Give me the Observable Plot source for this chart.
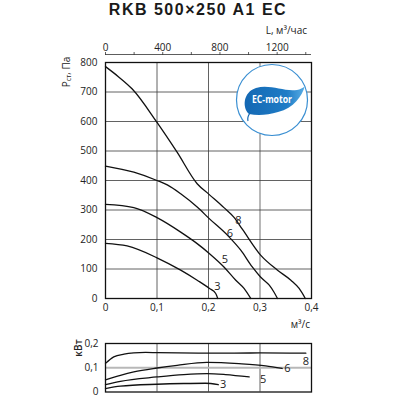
<!DOCTYPE html>
<html><head><meta charset="utf-8">
<script src="https://cdn.jsdelivr.net/npm/d3@7"></script>
<script src="https://cdn.jsdelivr.net/npm/@observablehq/plot@0.6"></script>
<style>
body{margin:0;background:#fff;}
#wrap{position:relative;width:400px;height:400px;overflow:hidden;font-family:"Open Sans",sans-serif;color:#222;background:#fff;}
.abs{position:absolute;white-space:nowrap;line-height:1;}
.rot{position:absolute;white-space:nowrap;line-height:1;transform:translate(-50%,-50%) rotate(-90deg);}
#title{left:0;width:396px;top:2px;text-align:center;font-family:"Liberation Sans",sans-serif;font-weight:bold;font-size:16px;letter-spacing:1.5px;color:#1a1a1a;}
#topLabel{right:93px;top:25px;font-size:10px;}
#xUnit{right:90px;top:319px;font-size:10px;}
#yLabel{left:66px;top:72px;font-size:10px;}
#yLabel sub{font-size:7px;vertical-align:-1px;}
#pLabel{left:78px;top:348px;font-size:10px;font-weight:600;}
#topAxis{left:0;top:36px;}
#main{left:0;top:56px;}
#power{left:0;top:320px;}
#logo{position:absolute;left:234px;top:62px;}
</style></head><body>
<div id="wrap">
  <div class="abs" id="title">RKB 500×250 A1 EC</div>
  <div class="abs" id="topLabel">L, м³/час</div>
  <div class="abs" id="topAxis"></div>
  <div class="abs" id="main"></div>
  <div class="rot" id="yLabel">Р<sub>ст</sub>, Па</div>
  <div class="abs" id="xUnit">м³/с</div>
  <div class="abs" id="power"></div>
  <div class="rot" id="pLabel">кВт</div>
  <svg id="logo" width="76" height="76" viewBox="0 0 76 76">
    <defs>
      <linearGradient id="lg" x1="0" y1="0" x2="1" y2="0">
        <stop offset="0" stop-color="#1468b3"/>
        <stop offset="0.7" stop-color="#1f7cc6"/>
        <stop offset="1" stop-color="#5aaee6"/>
      </linearGradient>
    </defs>
    <circle cx="38" cy="38" r="35.5" fill="#fff" stroke="#3a8fd2" stroke-width="1.2"/>
    <path d="M15 52 C8 46 9 30 22 26 C36 22 50 30 63 28 C66 27.5 69 26 71 24 C68 34 60 46 44 50 C34 53 24 54 15 52 Z" fill="url(#lg)"/>
    <path d="M16 51 Q13 55 14 59" fill="none" stroke="#1468b3" stroke-width="1.2"/>
    <text x="38" y="41" text-anchor="middle" fill="#fff" font-family="Open Sans" font-weight="bold" font-size="10" textLength="40" lengthAdjust="spacingAndGlyphs">EC-motor</text>
  </svg>
</div>
<script>
// ---- axis ticks & labels ----
const flowTicks = [0, 0.1, 0.2, 0.3, 0.4];
const flowTickLabels = ["0", "0,1", "0,2", "0,3", "0,4"];
const flowGrid = [0.1, 0.2];
const flowHighlight = [0.3];
const pressureTicks = [0, 100, 200, 300, 400, 500, 600, 700, 800];
const pressureGrid = [100, 200, 300, 400, 500, 600, 700];
const topTicks = [0, 200, 400, 600, 800, 1000, 1200, 1400];
const topTickLabels = ["0", "", "400", "", "800", "", "1200", ""];
const powerTicks = [0, 0.1, 0.2];
const powerTickLabels = ["0", "0,1", "0,2"];
const powerHighlight = [0.1];
const powerGrid = [0.1, 0.2, 0.3];

// ---- pressure curves (m³/s, Pa) ----
const speeds = ["3", "5", "6", "8"];
const flow3 = [0, 0.042, 0.1, 0.146, 0.178, 0.202, 0.214, 0.218];
const pres3 = [187, 178, 138, 96, 62, 34, 17, 0];
const flow5 = [0, 0.055, 0.1, 0.146, 0.178, 0.202, 0.23, 0.253, 0.269, 0.282];
const pres5 = [319, 308, 274, 225, 186, 152, 107, 62, 34, 0];
const flow6 = [0, 0.055, 0.1, 0.12, 0.146, 0.178, 0.202, 0.237, 0.263, 0.285, 0.301, 0.318, 0.327, 0.334];
const pres6 = [449, 428, 400, 385, 355, 310, 270, 214, 163, 107, 73, 45, 22, 0];
const flow8 = [0, 0.025, 0.052, 0.1, 0.139, 0.178, 0.201, 0.23, 0.25, 0.266, 0.3016, 0.334, 0.36, 0.376, 0.388];
const pres8 = [786, 752, 710, 597, 496, 389, 353, 308, 274, 234, 146, 96, 62, 34, 0];
const labelFlow = [0.2175, 0.232, 0.2415, 0.258];
const labelPressure = [42, 132, 221, 265];

// ---- power curves (m³/s, kW) ----
const pflow3 = [0, 0.029, 0.1, 0.152, 0.194, 0.219];
const power3 = [0.014, 0.024, 0.032, 0.035, 0.036, 0.030];
const pflow5 = [0, 0.029, 0.1, 0.152, 0.197, 0.233, 0.279];
const power5 = [0.030, 0.044, 0.062, 0.072, 0.076, 0.072, 0.062];
const pflow6 = [0, 0.029, 0.055, 0.1, 0.139, 0.197, 0.259, 0.311, 0.343];
const power6 = [0.050, 0.069, 0.083, 0.099, 0.110, 0.122, 0.117, 0.108, 0.097];
const pflow8 = [0, 0.016, 0.036, 0.055, 0.078, 0.1, 0.2, 0.3, 0.389];
const power8 = [0.118, 0.145, 0.156, 0.161, 0.163, 0.162, 0.160, 0.161, 0.160];
const powerLabelFlow = [0.2285, 0.306, 0.353, 0.389];
const powerLabelValue = [0.031, 0.053, 0.0965, 0.1275];

// ---- build tables ----
const rows = (sets) => sets.flatMap(([f, v, s]) => f.map((x, i) => ({flow: x, value: v[i], speed: s})));
const pressureRows = rows([[flow3, pres3, "3"], [flow5, pres5, "5"], [flow6, pres6, "6"], [flow8, pres8, "8"]]);
const powerRows = rows([[pflow3, power3, "3"], [pflow5, power5, "5"], [pflow6, power6, "6"], [pflow8, power8, "8"]]);
const pLabels = speeds.map((s, i) => ({flow: labelFlow[i], value: labelPressure[i], speed: s}));
const wLabels = speeds.map((s, i) => ({flow: powerLabelFlow[i], value: powerLabelValue[i], speed: s}));
const lookup = (ticks, labels) => { const m = new Map(ticks.map((t, i) => [t, labels[i]])); return d => m.get(d) ?? ""; };

const baseStyle = {fontFamily: "Open Sans", fontSize: "10px", color: "#222", background: "transparent", overflow: "visible"};
const L = 105, R = 89;

// top axis (m³/h)
const topPlot = Plot.plot({
  width: 400, height: 20, marginTop: 18, marginBottom: 2, marginLeft: L, marginRight: R,
  style: baseStyle,
  x: {domain: [0, 1440], axis: null},
  y: {domain: [0, 1], axis: null},
  marks: [
    Plot.ruleY([1], {stroke: "#333", strokeWidth: 0.8}),
    Plot.axisX(topTicks, {anchor: "top", label: null, tickSize: 3, tickPadding: 1, stroke: "#333", strokeWidth: 0.8, tickFormat: lookup(topTicks, topTickLabels)})
  ]
});
document.getElementById("topAxis").append(topPlot);

// main pressure chart
const mainPlot = Plot.plot({
  width: 400, height: 264, marginTop: 6, marginBottom: 22, marginLeft: L, marginRight: R,
  style: baseStyle,
  x: {domain: [0, 0.4], axis: null, label: null},
  y: {domain: [0, 800], axis: null, label: null},
  marks: [
    Plot.ruleX(flowGrid, {stroke: "#3a3a3a", strokeWidth: 0.8}),
    Plot.ruleX(flowHighlight, {stroke: "#b8b8b8", strokeWidth: 2}),
    Plot.ruleY(pressureGrid, {stroke: "#3a3a3a", strokeWidth: 0.8}),
    Plot.axisX(flowTicks, {anchor: "bottom", label: null, tickSize: 0, tickPadding: 5, tickFormat: lookup(flowTicks, flowTickLabels)}),
    Plot.axisY(pressureTicks, {anchor: "left", label: null, tickSize: 0, tickPadding: 8, tickFormat: d => String(d)}),
    Plot.line(pressureRows, {x: "flow", y: "value", z: "speed", curve: "monotone-x", stroke: "#111", strokeWidth: 1.3}),
    Plot.text(pLabels, {x: "flow", y: "value", text: "speed", fontSize: 11, fill: "#222"}),
    Plot.frame({stroke: "#111", strokeWidth: 1.3})
  ]
});
document.getElementById("main").append(mainPlot);

// power chart
const powerPlot = Plot.plot({
  width: 400, height: 80, marginTop: 23, marginBottom: 8.5, marginLeft: L, marginRight: R,
  style: baseStyle,
  x: {domain: [0, 0.4], axis: null, label: null},
  y: {domain: [0, 0.2], axis: null, label: null},
  marks: [
    Plot.ruleX(powerGrid, {stroke: "#3a3a3a", strokeWidth: 0.8}),
    Plot.ruleY(powerHighlight, {stroke: "#b8b8b8", strokeWidth: 2}),
    Plot.axisY(powerTicks, {anchor: "left", label: null, tickSize: 0, tickPadding: 7, tickFormat: lookup(powerTicks, powerTickLabels)}),
    Plot.line(powerRows, {x: "flow", y: "value", z: "speed", curve: "monotone-x", stroke: "#111", strokeWidth: 1.3}),
    Plot.text(wLabels, {x: "flow", y: "value", text: "speed", fontSize: 11, fill: "#222"}),
    Plot.frame({stroke: "#111", strokeWidth: 1.3})
  ]
});
document.getElementById("power").append(powerPlot);
</script>
</body></html>
